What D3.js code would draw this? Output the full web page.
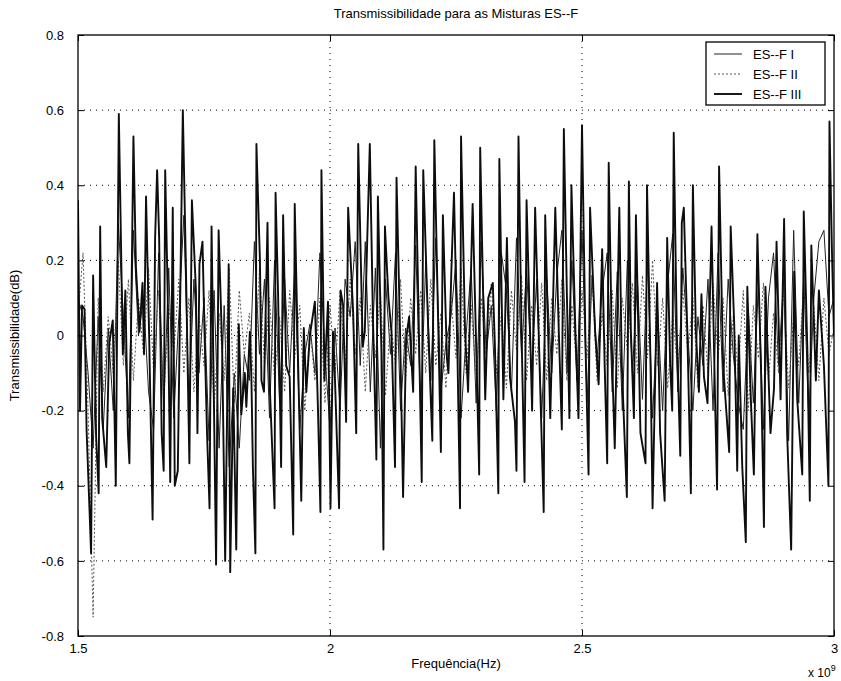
<!DOCTYPE html>
<html>
<head>
<meta charset="utf-8">
<script src="https://cdn.jsdelivr.net/npm/d3@7"></script>
<style>
  body { margin: 0; background: #fff; }
  svg { font-family: "Liberation Sans", Arial, sans-serif; }
</style>
</head>
<body>
<div id="chart"></div>
<script>
// Transmissibilidade ES--F, frequency in units of 1e9 Hz

// ES-F III: extremes
const freqIII = [
  1.500, 1.504, 1.508, 1.513, 1.517, 1.526, 1.530, 1.536, 1.541, 1.544,
  1.548, 1.556, 1.562, 1.569, 1.575, 1.581, 1.589, 1.594, 1.599, 1.602,
  1.610, 1.615, 1.622, 1.628, 1.631, 1.635, 1.641, 1.648, 1.653, 1.657,
  1.661, 1.666, 1.670, 1.673, 1.678, 1.683, 1.688, 1.692, 1.698, 1.708,
  1.714, 1.721, 1.726, 1.734, 1.737, 1.741, 1.747, 1.751, 1.756, 1.761,
  1.765, 1.774, 1.779, 1.786, 1.792, 1.797, 1.799, 1.802, 1.808, 1.814,
  1.819, 1.824, 1.831, 1.834, 1.841, 1.844, 1.847, 1.852, 1.854, 1.861,
  1.864, 1.869, 1.876, 1.880, 1.890, 1.892, 1.897, 1.903, 1.907, 1.913,
  1.920, 1.927, 1.930, 1.937, 1.943, 1.948, 1.953, 1.960, 1.970, 1.976,
  1.981, 1.983, 1.989, 1.996, 2.001, 2.006, 2.009, 2.018, 2.021, 2.026,
  2.032, 2.036, 2.046, 2.052, 2.056, 2.065, 2.069, 2.079, 2.085, 2.092,
  2.095, 2.102, 2.106, 2.109, 2.116, 2.122, 2.129, 2.132, 2.139, 2.145,
  2.151, 2.157, 2.165, 2.170, 2.175, 2.182, 2.185, 2.195, 2.203, 2.207,
  2.215, 2.220, 2.224, 2.232, 2.235, 2.241, 2.246, 2.253, 2.258, 2.260,
  2.268, 2.274, 2.283, 2.291, 2.296, 2.298, 2.308, 2.314, 2.323, 2.327,
  2.334, 2.336, 2.344, 2.351, 2.357, 2.367, 2.370, 2.374, 2.380, 2.386,
  2.390, 2.397, 2.401, 2.407, 2.414, 2.424, 2.427, 2.437, 2.447, 2.454,
  2.460, 2.464, 2.470, 2.475, 2.479, 2.487, 2.493, 2.500, 2.507, 2.513,
  2.516, 2.526, 2.533, 2.540, 2.545, 2.550, 2.553, 2.560, 2.565, 2.574,
  2.579, 2.589, 2.593, 2.597, 2.603, 2.607, 2.616, 2.626, 2.629, 2.636,
  2.640, 2.649, 2.655, 2.664, 2.669, 2.675, 2.679, 2.682, 2.688, 2.695,
  2.698, 2.702, 2.709, 2.716, 2.720, 2.726, 2.732, 2.737, 2.742, 2.749,
  2.757, 2.764, 2.768, 2.772, 2.780, 2.792, 2.795, 2.802, 2.808, 2.811,
  2.818, 2.825, 2.828, 2.835, 2.841, 2.848, 2.855, 2.861, 2.864, 2.874,
  2.881, 2.886, 2.894, 2.901, 2.907, 2.915, 2.921, 2.927, 2.937, 2.940,
  2.947, 2.952, 2.955, 2.964, 2.970, 2.980, 2.989, 2.991, 2.996, 3.000
];
const esf3 = [
   0.36, -0.20,  0.08,  0.07, -0.25, -0.58,  0.16, -0.27, -0.42,  0.29,
  -0.22, -0.35, -0.02,  0.04, -0.40,  0.59, -0.05,  0.12, -0.26, -0.34,
   0.53,  0.18,  0.01,  0.14, -0.05,  0.37,  0.01, -0.49,  0.26,  0.44,
   0.26, -0.26, -0.36,  0.44,  0.11, -0.39,  0.34, -0.40, -0.36,  0.60,
   0.19, -0.34,  0.36,  0.12, -0.26,  0.19,  0.25,  0.01, -0.26, -0.46,
   0.29, -0.61,  0.28, -0.03, -0.60, -0.08,  0.19, -0.63, -0.14, -0.57,
   0.03, -0.21, -0.10, -0.19,  0.01, -0.11, -0.35, -0.58,  0.51,  0.20,
  -0.12, -0.15,  0.30, -0.12, -0.46,  0.38,  0.11, -0.35,  0.32, -0.08,
  -0.11, -0.53,  0.35, -0.09, -0.44,  0.02, -0.15,  0.00,  0.09, -0.19,
  -0.47,  0.44, -0.12,  0.09, -0.46,  0.01, -0.08, -0.46,  0.12,  0.08,
  -0.23,  0.34,  0.06, -0.26,  0.51, -0.03,  0.01,  0.51,  0.06, -0.33,
   0.37, -0.04, -0.57,  0.29,  0.10,  0.01, -0.35,  0.42,  0.01, -0.43,
  -0.01,  0.05, -0.15,  0.45,  0.11, -0.39,  0.44,  0.01, -0.28,  0.52,
   0.01, -0.31,  0.32, -0.06, -0.10,  0.18,  0.38, -0.06, -0.46,  0.53,
   0.01, -0.15,  0.35, -0.08, -0.37,  0.50, -0.17,  0.10,  0.14, -0.02,
  -0.42,  0.47, -0.17,  0.26, -0.11, -0.23, -0.36,  0.53,  0.01, -0.39,
   0.36,  0.01, -0.20,  0.34,  0.01, -0.47,  0.32, -0.22,  0.34,  0.01,
  -0.25,  0.55,  0.11, -0.22,  0.40,  0.01, -0.22,  0.56, -0.03, -0.37,
   0.34,  0.01, -0.13,  0.23, -0.08, -0.34,  0.46, -0.08, -0.30,  0.34,
  -0.08, -0.43,  0.41,  0.01, -0.22,  0.32, -0.26, -0.34,  0.40, -0.08,
  -0.46,  0.14, -0.26, -0.44,  0.26, -0.08, -0.20,  0.54,  0.01, -0.32,
   0.30,  0.34,  0.01, -0.42,  0.40,  0.01, -0.15,  0.11, -0.11, -0.18,
   0.29, -0.17, -0.41,  0.45, -0.08, -0.31,  0.29,  0.03, -0.36,  0.00,
  -0.35, -0.55,  0.13, -0.17, -0.37,  0.27, -0.08, -0.51,  0.13, -0.26,
  -0.14,  0.25, -0.17,  0.31, -0.26, -0.57,  0.17, -0.17, -0.37,  0.33,
  -0.03, -0.44,  0.24, -0.12,  0.12, -0.08, -0.40,  0.57,  0.22,  0.00
];

// ES-F I and ES-F II: thinner traces, sampled every 0.01
const freqLow = [
  1.50, 1.51, 1.52, 1.53, 1.54, 1.55, 1.56, 1.57, 1.58, 1.59,
  1.60, 1.61, 1.62, 1.63, 1.64, 1.65, 1.66, 1.67, 1.68, 1.69,
  1.70, 1.71, 1.72, 1.73, 1.74, 1.75, 1.76, 1.77, 1.78, 1.79,
  1.80, 1.81, 1.82, 1.83, 1.84, 1.85, 1.86, 1.87, 1.88, 1.89,
  1.90, 1.91, 1.92, 1.93, 1.94, 1.95, 1.96, 1.97, 1.98, 1.99,
  2.00, 2.01, 2.02, 2.03, 2.04, 2.05, 2.06, 2.07, 2.08, 2.09,
  2.10, 2.11, 2.12, 2.13, 2.14, 2.15, 2.16, 2.17, 2.18, 2.19,
  2.20, 2.21, 2.22, 2.23, 2.24, 2.25, 2.26, 2.27, 2.28, 2.29,
  2.30, 2.31, 2.32, 2.33, 2.34, 2.35, 2.36, 2.37, 2.38, 2.39,
  2.40, 2.41, 2.42, 2.43, 2.44, 2.45, 2.46, 2.47, 2.48, 2.49,
  2.50, 2.51, 2.52, 2.53, 2.54, 2.55, 2.56, 2.57, 2.58, 2.59,
  2.60, 2.61, 2.62, 2.63, 2.64, 2.65, 2.66, 2.67, 2.68, 2.69,
  2.70, 2.71, 2.72, 2.73, 2.74, 2.75, 2.76, 2.77, 2.78, 2.79,
  2.80, 2.81, 2.82, 2.83, 2.84, 2.85, 2.86, 2.87, 2.88, 2.89,
  2.90, 2.91, 2.92, 2.93, 2.94, 2.95, 2.96, 2.97, 2.98, 2.99,
  3.00
];
const esf1 = [
   0.10,  0.05, -0.10, -0.30,  0.05, -0.25,  0.02, -0.20,  0.30,  0.05,
  -0.22,  0.28,  0.00,  0.10, -0.15, -0.25,  0.22, -0.20,  0.18, -0.22,
   0.05,  0.32, -0.18,  0.15, -0.10,  0.10, -0.28,  0.12, -0.30,  0.08,
  -0.35, -0.10, -0.30, -0.05, -0.12,  0.25, -0.05,  0.15, -0.22,  0.20,
  -0.18,  0.15, -0.10,  0.18, -0.25, -0.05,  0.03, -0.10,  0.22, -0.05,
  -0.25,  0.02, -0.20,  0.15,  0.05,  0.25, -0.08,  0.25, -0.15,  0.18,
  -0.30,  0.15, -0.05,  0.22, -0.20,  0.02, -0.08,  0.24, -0.20,  0.20,
  -0.12,  0.26, -0.15, -0.02,  0.05,  0.20, -0.22,  0.00,  0.18, -0.18,
   0.25, -0.05,  0.08, -0.20,  0.22,  0.12, -0.15,  0.26, -0.05,  0.18,
  -0.10,  0.15, -0.22,  0.15, -0.10,  0.16,  0.28, -0.10,  0.20, -0.12,
   0.28, -0.18,  0.16, -0.06,  0.12,  0.22, -0.15,  0.17, -0.20,  0.20,
  -0.10,  0.15, -0.17,  0.20, -0.22,  0.07, -0.20,  0.14,  0.27, -0.15,
   0.18,  0.00, -0.20,  0.05, -0.08,  0.15, -0.20,  0.22, -0.15,  0.15,
  -0.05, -0.18, -0.25,  0.07, -0.18,  0.14, -0.25,  0.10,  0.22, -0.08,
   0.15, -0.28,  0.28, -0.18,  0.16, -0.22,  0.10,  0.25,  0.28,  0.05,
   0.10
];
const esf2 = [
   0.05,  0.22, -0.20, -0.75,  0.10, -0.15,  0.05, -0.10,  0.20, -0.08,
   0.15, -0.12,  0.10, -0.05,  0.18, -0.10,  0.12, -0.18,  0.08, -0.05,
   0.15, -0.10,  0.10, -0.15,  0.05, -0.08,  0.12, -0.20,  0.06, -0.12,
   0.18, -0.18,  0.12, -0.05,  0.06, -0.15,  0.18, -0.08,  0.10, -0.12,
   0.05, -0.15,  0.12, -0.06,  0.08, -0.20,  0.02, -0.12,  0.10, -0.18,
   0.08, -0.10,  0.12, -0.08,  0.15, -0.05,  0.10, -0.15,  0.08, -0.06,
   0.12, -0.16,  0.04, -0.08,  0.15, -0.12,  0.10, -0.05,  0.12, -0.10,
   0.15, -0.08,  0.06, -0.14,  0.10, -0.06,  0.18, -0.10,  0.08, -0.12,
   0.10, -0.05,  0.14, -0.10,  0.06, -0.14,  0.12, -0.04,  0.16, -0.12,
   0.08, -0.08,  0.14, -0.12,  0.10, -0.05,  0.15, -0.12,  0.08, -0.10,
   0.12, -0.06,  0.16, -0.12,  0.06, -0.08,  0.12, -0.14,  0.10, -0.04,
   0.14, -0.10,  0.16, -0.06,  0.20, -0.08,  0.10, -0.14,  0.06, -0.10,
   0.12, -0.05,  0.10, -0.14,  0.08, -0.10,  0.14, -0.06,  0.10, -0.16,
   0.05, -0.10,  0.12, -0.20,  0.08, -0.06,  0.14, -0.12,  0.06, -0.10,
   0.12, -0.14,  0.05, -0.08,  0.14, -0.10,  0.08, -0.12,  0.10, -0.05,
   0.02
];

const seriesNames = ['ES--F I', 'ES--F II', 'ES--F III'];
const xTicks = [1.5, 2, 2.5, 3];
const yTicks = [-0.8, -0.6, -0.4, -0.2, 0, 0.2, 0.4, 0.6, 0.8];

const [width, height] = [841, 681];
const box = { left: 78, right: 834, top: 35, bottom: 636 };

const svg = d3.select('#chart')
    .append('svg')
    .attr('width', width)
    .attr('height', height);

svg.append('rect')
    .attr('width', width)
    .attr('height', height)
    .attr('fill', '#fff');

const x = d3.scaleLinear().domain([1.5, 3]).range([box.left, box.right]);
const y = d3.scaleLinear().domain([-0.8, 0.8]).range([box.bottom, box.top]);

// dotted grid
const grid = svg.append('g');
grid.selectAll('.gx')
    .data(xTicks.slice(1, -1))
    .join('line')
    .attr('x1', d => x(d)).attr('x2', d => x(d))
    .attr('y1', box.top).attr('y2', box.bottom);
grid.selectAll('.gy')
    .data(yTicks.slice(1, -1))
    .join('line')
    .attr('x1', box.left).attr('x2', box.right)
    .attr('y1', d => y(d)).attr('y2', d => y(d));
grid.selectAll('line')
    .attr('stroke', '#000')
    .attr('stroke-width', 1)
    .attr('stroke-dasharray', '1,5');

// series
const line = d3.line()
    .x(d => x(d[0]))
    .y(d => y(d[1]));

const series = [
    { data: d3.zip(freqLow, esf1), stroke: '#222', width: 1, dash: null },
    { data: d3.zip(freqLow, esf2), stroke: '#555', width: 1, dash: '2,2' },
    { data: d3.zip(freqIII, esf3), stroke: '#0d0d0d', width: 1.9, dash: null }
];

svg.append('defs').append('clipPath')
    .attr('id', 'clip')
    .append('rect')
    .attr('x', box.left).attr('y', box.top)
    .attr('width', box.right - box.left)
    .attr('height', box.bottom - box.top);

svg.append('g')
    .attr('clip-path', 'url(#clip)')
    .selectAll('path')
    .data(series)
    .join('path')
    .attr('d', d => line(d.data))
    .attr('fill', 'none')
    .attr('stroke', d => d.stroke)
    .attr('stroke-width', d => d.width)
    .attr('stroke-dasharray', d => d.dash)
    .attr('stroke-linejoin', 'round');

// axes: inward ticks on all four sides
const fmt = d => String(d);
const axisStyle = (g) => {
    g.selectAll('text')
        .attr('fill', '#000')
        .style('font-size', '13px');
    g.selectAll('line').attr('stroke', '#000');
    g.select('.domain').remove();
};

svg.append('g')
    .attr('transform', `translate(${box.left},0)`)
    .call(d3.axisLeft(y).tickValues(yTicks).tickFormat(fmt).tickSize(-6).tickPadding(14))
    .call(axisStyle);
svg.append('g')
    .attr('transform', `translate(${box.right},0)`)
    .call(d3.axisRight(y).tickValues(yTicks).tickFormat('').tickSize(-6))
    .call(axisStyle);
svg.append('g')
    .attr('transform', `translate(0,${box.bottom})`)
    .call(d3.axisBottom(x).tickValues(xTicks).tickFormat(fmt).tickSize(-6).tickPadding(8))
    .call(axisStyle);
svg.append('g')
    .attr('transform', `translate(0,${box.top})`)
    .call(d3.axisTop(x).tickValues(xTicks).tickFormat('').tickSize(-6))
    .call(axisStyle);

svg.append('rect')
    .attr('x', box.left).attr('y', box.top)
    .attr('width', box.right - box.left)
    .attr('height', box.bottom - box.top)
    .attr('fill', 'none')
    .attr('stroke', '#000')
    .attr('stroke-width', 1.3);

// titles
const midX = (box.left + box.right) / 2;
svg.append('text')
    .attr('x', midX).attr('y', 18)
    .attr('text-anchor', 'middle')
    .style('font-size', '13px')
    .text('Transmissibilidade para as Misturas ES--F');

svg.append('text')
    .attr('x', midX).attr('y', 668)
    .attr('text-anchor', 'middle')
    .style('font-size', '13px')
    .text('Frequência(Hz)');

svg.append('text')
    .attr('transform', `translate(19,${(box.top + box.bottom) / 2}) rotate(-90)`)
    .attr('text-anchor', 'middle')
    .style('font-size', '13px')
    .text('Transmissibilidade(dB)');

const expo = svg.append('text')
    .attr('x', 808).attr('y', 677)
    .style('font-size', '12px');
expo.append('tspan').text('x 10');
expo.append('tspan').attr('dy', -6).style('font-size', '9px').text('9');

// legend
const legend = svg.append('g').attr('transform', 'translate(706,42)');
legend.append('rect')
    .attr('width', 119).attr('height', 63)
    .attr('fill', '#fff')
    .attr('stroke', '#000')
    .attr('stroke-width', 1.3);
const item = legend.selectAll('.item')
    .data(series)
    .join('g')
    .attr('transform', (d, i) => `translate(0,${12 + i * 20})`);
item.append('line')
    .attr('x1', 8).attr('x2', 36)
    .attr('stroke', d => d.stroke)
    .attr('stroke-width', d => d.width)
    .attr('stroke-dasharray', d => d.dash);
item.append('text')
    .attr('x', 47).attr('y', 5)
    .style('font-size', '13px')
    .text((d, i) => seriesNames[i]);
</script>
</body>
</html>
